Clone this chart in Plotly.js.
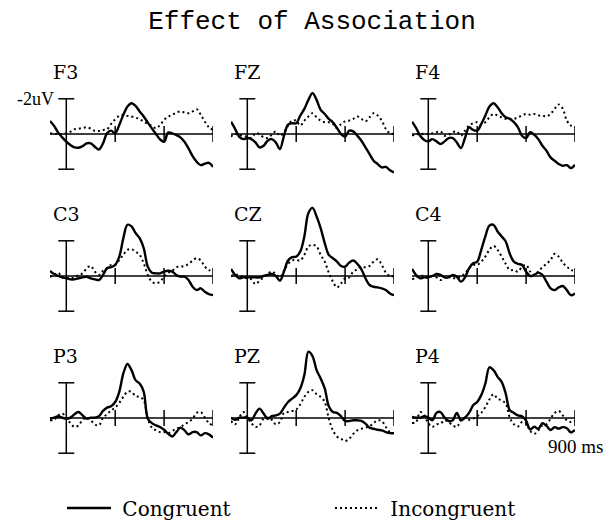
<!DOCTYPE html>
<html><head><meta charset="utf-8">
<script src="https://cdn.plot.ly/plotly-3.0.1.min.js"></script>
<style>html,body{margin:0;padding:0;background:#fff}#chart{width:608px;height:523px}</style>
</head><body><div id="chart"></div>
<script>
// ---- data (µV; negative plotted upward) ----
const times = [-100,-75,-50,-25,0,25,50,75,100,125,150,175,200,225,250,275,300,325,350,375,400,425,450,475,500,525,550,575,600,625,650,675,700,725,750,775,800,825,850,875,900];
const electrodes = ['F3','FZ','F4','C3','CZ','C4','P3','PZ','P4'];
const seriesNames = ['Congruent','Incongruent'];
const xTickTimes = [300,600,900];
const scaleBarUv = 2;
const scaleLabel = '-2uV';
const timeLabel = '900 ms';
const titleText = 'Effect of Association';

const congF3 = [-0.74,-0.46,-0.08,0.19,0.44,0.63,0.76,0.78,0.69,0.53,0.53,0.72,0.88,0.53,-0.04,-0.19,-0.04,-0.51,-1.09,-1.56,-1.75,-1.6,-1.28,-0.99,-0.65,-0.32,0,0.3,0.44,-0.08,-0.04,0.06,0.19,0.44,0.82,1.26,1.58,1.77,1.68,1.64,1.87];
const incF3  = [-0.04,0,0,0,-0.04,-0.13,-0.27,-0.3,-0.34,-0.38,-0.3,-0.17,-0.17,-0.23,-0.27,-0.57,-0.84,-1.03,-1.09,-1.03,-0.99,-0.93,-0.84,-0.7,-0.57,-0.46,-0.32,-0.51,-0.8,-0.99,-1.09,-1.22,-1.28,-1.22,-1.18,-1.28,-1.41,-1.09,-0.7,-0.38,-0.23];
const congFZ = [-0.7,-0.29,0.15,0.29,0.23,0.29,0.48,0.76,0.67,0.38,0.29,0.48,0.86,0.1,-0.53,-0.61,-0.61,-1.05,-1.43,-1.94,-2.32,-1.94,-1.37,-1.14,-0.86,-0.67,-0.34,0,0.15,-0.19,-0.15,0.1,0.38,0.76,1.14,1.52,1.71,1.9,1.87,2.06,2.19];
const incFZ  = [0.15,0,0.04,0.1,0.15,0.23,-0.04,0,0.19,0.23,0.04,-0.15,0.1,-0.1,-0.48,-0.76,-0.76,-0.48,-0.76,-1,-1.18,-0.95,-0.76,-0.67,-0.67,-0.57,-0.34,-0.57,-0.72,-0.76,-0.86,-1,-0.86,-0.72,-0.95,-1.18,-1.05,-0.76,-0.29,-0.04,0];
const congF4 = [-0.7,-0.34,0.1,0.34,0.42,0.29,0.42,0.57,0.42,0.23,0.23,0.48,0.8,0.23,-0.38,-0.23,-0.19,-0.57,-1.05,-1.56,-1.75,-1.52,-1.18,-0.95,-0.86,-0.67,-0.38,0.1,0.23,-0.1,0.04,0.29,0.67,0.95,1.33,1.52,1.71,1.81,1.77,1.94,1.75];
const incF4  = [0.1,0,0.04,-0.04,0,-0.04,-0.1,-0.15,0.1,0.04,-0.1,-0.13,0.1,-0.19,-0.48,-0.61,-0.67,-0.53,-0.67,-0.95,-1.14,-1.05,-0.95,-0.86,-0.86,-0.86,-0.95,-1.05,-1.14,-1.1,-1.14,-1.05,-1.05,-1,-1.14,-1.43,-1.68,-1.43,-0.76,-0.48,-0.38];
const congC3 = [-0.29,-0.11,0,0.08,0.13,0.19,0.19,0.13,0.08,0.04,0.13,0.19,0.23,-0.06,-0.44,-0.5,-0.63,-1.1,-2.15,-2.91,-2.82,-2.44,-2.15,-1.58,-0.53,-0.19,-0.15,-0.15,-0.25,-0.3,-0.25,-0.06,0.04,0.04,0.23,0.61,0.8,0.7,0.9,1.03,1.09];
const incC3  = [0.04,-0.06,-0.19,0.08,0.08,0.13,0.08,-0.06,-0.15,-0.44,-0.57,-0.25,-0.06,-0.3,-0.44,-0.63,-0.63,-0.91,-1.2,-1.49,-1.52,-1.39,-1.2,-0.72,-0.06,0.32,0.42,0.32,0.04,-0.19,-0.3,-0.5,-0.53,-0.57,-0.69,-0.88,-1.01,-0.88,-0.53,-0.34,-0.25];
const congCZ = [-0.4,-0.06,0.13,0.08,0.08,0.08,0.08,0.08,0,-0.06,-0.11,0,0.27,-0.25,-0.88,-1.07,-1.1,-1.39,-2.25,-3.58,-3.87,-3.39,-2.72,-1.87,-1.2,-1.01,-0.82,-0.57,-0.53,-0.76,-0.88,-0.69,-0.38,0.13,0.51,0.61,0.65,0.7,0.8,0.99,1.09];
const incCZ  = [0,-0.06,-0.06,0.08,0.13,0.19,0.46,0.27,0.08,-0.11,-0.25,-0.11,0.08,-0.3,-0.69,-0.88,-0.91,-0.88,-1.2,-1.68,-1.77,-1.68,-1.2,-0.82,-0.19,0.32,0.65,0.42,0.13,0.08,-0.25,-0.38,-0.53,-0.5,-0.57,-0.82,-0.95,-0.63,-0.19,0,0];
const congC4 = [-0.4,-0.06,0.13,0.08,0.08,0,-0.11,-0.06,0.08,0.08,-0.06,0.04,0.32,0.08,-0.44,-0.72,-0.82,-1.49,-2.25,-2.86,-2.91,-2.53,-2.25,-1.96,-1.26,-0.82,-0.69,-0.63,-0.25,0,-0.06,-0.19,-0.06,0.32,0.7,0.8,0.65,0.57,0.8,1.09,0.99];
const incC4  = [0.19,0.08,0,0,0.08,0,0.08,0.23,0.08,0,0.13,0.08,0.04,-0.15,-0.44,-0.63,-0.63,-0.82,-1.1,-1.49,-1.71,-1.49,-1.1,-0.69,-0.34,-0.34,-0.25,-0.53,-0.63,-0.25,-0.06,-0.25,-0.5,-0.69,-0.91,-1.26,-1.1,-0.76,-0.53,-0.34,-0.3];
const congP3 = [0.04,-0.02,-0.1,-0.02,0.04,-0.02,-0.21,-0.34,-0.15,0.04,-0.02,-0.02,-0.1,-0.4,-0.59,-0.67,-0.91,-1.49,-2.53,-3.07,-2.72,-2.15,-1.96,-1.49,0.04,0.29,0.42,0.51,0.67,0.9,1.05,0.8,0.55,0.7,0.93,0.8,0.8,0.99,0.86,0.93,1.12];
const incP3  = [0.13,0.1,-0.15,-0.25,-0.02,0.29,0.51,0.42,0.1,-0.02,0.13,0.36,0.42,-0.02,-0.21,-0.44,-0.59,-0.86,-1.2,-1.49,-1.49,-1.24,-1.2,-1.01,0.04,0.55,0.7,0.8,0.8,0.86,0.74,0.61,0.51,0.36,0.23,0.04,-0.29,-0.34,-0.02,0.29,0.42];
const congPZ = [-0.02,0.1,-0.02,-0.02,-0.02,0.13,-0.25,-0.53,-0.25,0.04,-0.1,-0.15,-0.25,-0.59,-0.91,-1.1,-1.3,-1.68,-2.44,-3.77,-3.52,-2.72,-2.25,-1.68,-0.67,-0.34,-0.29,-0.1,0.17,0.17,0.13,0.13,0.17,0.32,0.55,0.61,0.67,0.7,0.8,0.86,0.86];
const incPZ  = [0.17,0.36,-0.02,-0.34,-0.02,0.29,0.51,0.42,0.04,-0.02,0.1,0.36,0.23,-0.29,-0.34,-0.4,-0.48,-0.78,-1.2,-1.49,-1.58,-1.35,-1.2,-0.91,0.04,0.7,1.05,1.18,1.31,1.18,0.9,0.7,0.61,0.55,0.48,0.29,0.13,0.17,0.51,0.8,0.86];
const congP4 = [-0.06,-0.02,-0.02,-0.1,-0.02,0.13,-0.29,-0.34,-0.02,0.17,0.13,-0.29,0.13,-0.02,-0.29,-0.72,-0.91,-1.3,-1.96,-2.88,-2.72,-2.34,-2.05,-1.39,-0.44,-0.29,-0.15,-0.1,0.15,0.65,0.5,0.62,0.3,0.45,0.68,0.52,0.6,0.52,0.58,0.82,0.68];
const incP4  = [0.29,0.23,-0.34,-0.15,0.29,0.51,0.36,0.32,0.13,0.23,0.42,0.51,0.13,-0.02,0.1,0.04,-0.1,-0.29,-0.63,-1.05,-1.35,-1.1,-1,-0.82,-0.02,0.36,0.48,0.23,0.29,0.74,0.9,0.7,0.42,0.36,0.04,-0.29,-0.4,-0.15,0.13,0.23,0.17];

const congruent = [congF3,congFZ,congF4,congC3,congCZ,congC4,congP3,congPZ,congP4];
const incongruent = [incF3,incFZ,incF4,incC3,incCZ,incC4,incP3,incPZ,incP4];

// ---- layout geometry (pixels) ----
const W = 608, H = 523;
const colLeft = [50, 231, 412], panelW = 163;
const rowZero = [134, 276, 418], pxPerUv = 17.6;
const yTop = -4.2, yBottom = 2.5;
const labelY = [72, 214, 356];
const legendX = [62, 330], legendY = 508;
const serif = 'DejaVu Serif, serif';
const times_ = 'Liberation Serif, Times New Roman, serif';
const pad = '\u00a0';

const traces = [], shapes = [], annotations = [];
const legendStyle = (x) => ({orientation: 'h', x: x / W, xanchor: 'left', y: 1 - legendY / H, yanchor: 'middle',
  font: {family: serif, size: 20, color: '#000'}, bgcolor: 'rgba(0,0,0,0)', itemwidth: 44});
const layout = {
  width: W, height: H, margin: {l:0, r:0, t:0, b:0, autoexpand: false},
  paper_bgcolor: '#fff', plot_bgcolor: 'rgba(0,0,0,0)',
  title: {text: titleText, x: 312/W, xanchor: 'center', y: 1 - 20/H, yanchor: 'middle',
          font: {family: 'Liberation Mono, Courier New, monospace', size: 26, color: '#000'}},
  showlegend: true,
  legend: legendStyle(legendX[0]),
  legend2: legendStyle(legendX[1]),
  shapes: shapes, annotations: annotations
};

electrodes.forEach((name, i) => {
  const r = Math.floor(i / 3), c = i % 3;
  const sfx = i === 0 ? '' : String(i + 1);
  const xa = 'x' + sfx, ya = 'y' + sfx;
  const x0 = colLeft[c];
  const topPx = rowZero[r] + yTop * pxPerUv, botPx = rowZero[r] + yBottom * pxPerUv;
  layout['xaxis' + sfx] = {domain: [x0 / W, (x0 + panelW) / W], range: [times[0], times[times.length - 1]],
                           visible: false, fixedrange: true, anchor: ya};
  layout['yaxis' + sfx] = {domain: [1 - botPx / H, 1 - topPx / H], range: [yBottom, yTop],
                           visible: false, fixedrange: true, anchor: xa};
  traces.push({x: times, y: congruent[i], xaxis: xa, yaxis: ya, type: 'scatter', mode: 'lines',
               name: pad + seriesNames[0], legend: 'legend', legendgroup: 'c', showlegend: i === 0,
               line: {color: '#000', width: 2.4, shape: 'spline', smoothing: 1}});
  traces.push({x: times, y: incongruent[i], xaxis: xa, yaxis: ya, type: 'scatter', mode: 'lines',
               name: pad + seriesNames[1], legend: 'legend2', legendgroup: 'i', showlegend: i === 0,
               line: {color: '#000', width: 2, dash: '2px,3px', shape: 'spline', smoothing: 1}});
  const ln = {color: '#000', width: 1.5};
  shapes.push({type: 'line', xref: xa, yref: ya, x0: times[0], x1: times[times.length - 1], y0: 0, y1: 0, line: ln});
  xTickTimes.forEach(t => shapes.push({type: 'line', xref: xa, yref: ya, x0: t, x1: t,
    ysizemode: 'pixel', yanchor: 0, y0: -8, y1: 8, line: ln}));
  shapes.push({type: 'line', xref: xa, yref: ya, x0: 0, x1: 0, y0: -scaleBarUv, y1: scaleBarUv, line: ln});
  [-scaleBarUv, scaleBarUv].forEach(v => shapes.push({type: 'line', xref: xa, yref: ya, y0: v, y1: v,
    xsizemode: 'pixel', xanchor: 0, x0: -8, x1: 8, line: ln}));
  annotations.push({text: name, xref: 'paper', yref: 'paper', x: (x0 + 1) / W, y: 1 - labelY[r] / H,
    xanchor: 'left', yanchor: 'middle', showarrow: false, font: {family: serif, size: 19, color: '#000'}});
  if (i === 0) {
    annotations.push({text: scaleLabel, xref: xa, yref: ya, x: 0, y: -scaleBarUv, xshift: -10,
      xanchor: 'right', yanchor: 'middle', showarrow: false, font: {family: times_, size: 18, color: '#000'}});
  }
  if (i === electrodes.length - 1) {
    annotations.push({text: timeLabel, xref: xa, yref: ya, x: times[times.length - 1], y: 1.6, xshift: 30,
      xanchor: 'right', yanchor: 'middle', showarrow: false, font: {family: times_, size: 19, color: '#000'}});
  }
});

Plotly.newPlot('chart', traces, layout, {staticPlot: true, displayModeBar: false});
</script></body></html>
